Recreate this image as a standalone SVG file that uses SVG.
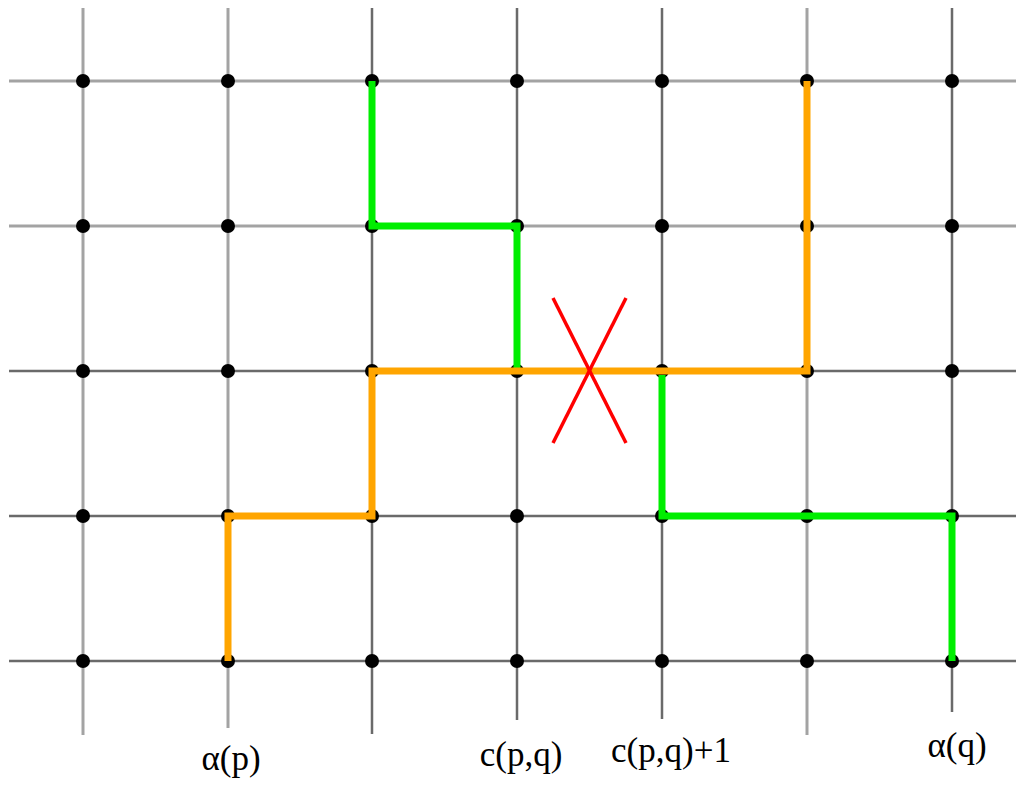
<svg xmlns="http://www.w3.org/2000/svg" width="1016" height="787" viewBox="0 0 1016 787">
<style>
.gl{stroke:#a3a3a3;stroke-width:3;fill:none}
.gd{stroke:#6a6a6a;stroke-width:2.5;fill:none}
.dot{fill:#000}
.green{stroke:#00ee00;stroke-width:7;fill:none;stroke-linejoin:miter}
.orange{stroke:#ffa500;stroke-width:7;fill:none;stroke-linejoin:miter}
.x{stroke:#ff0000;stroke-width:3.5;fill:none}
.lbl{font-family:"Liberation Serif","Times New Roman",serif;font-size:35px;fill:#000;text-anchor:middle}
</style>
<rect width="1016" height="787" fill="#fff"/>
<g id="grid">
<line class="gl" x1="83" y1="8" x2="83" y2="735"/>
<line class="gl" x1="228" y1="8" x2="228" y2="728"/>
<line class="gd" x1="372" y1="8" x2="372" y2="734"/>
<line class="gd" x1="517" y1="8" x2="517" y2="720"/>
<line class="gd" x1="662" y1="8" x2="662" y2="719"/>
<line class="gl" x1="807" y1="8" x2="807" y2="735"/>
<line class="gd" x1="952" y1="8" x2="952" y2="712"/>
<line class="gl" x1="9" y1="81" x2="1016" y2="81"/>
<line class="gl" x1="9" y1="226" x2="1016" y2="226"/>
<line class="gd" x1="9" y1="371" x2="1016" y2="371"/>
<line class="gd" x1="9" y1="516" x2="1016" y2="516"/>
<line class="gd" x1="9" y1="661" x2="1016" y2="661"/>
</g>
<g id="nodes">
<g id="r0"><circle class="dot" cx="83" cy="81" r="7"/><circle class="dot" cx="228" cy="81" r="7"/><circle class="dot" cx="372" cy="81" r="7"/><circle class="dot" cx="517" cy="81" r="7"/><circle class="dot" cx="662" cy="81" r="7"/><circle class="dot" cx="807" cy="81" r="7"/><circle class="dot" cx="952" cy="81" r="7"/></g>
<g id="r1"><circle class="dot" cx="83" cy="226" r="7"/><circle class="dot" cx="228" cy="226" r="7"/><circle class="dot" cx="372" cy="226" r="7"/><circle class="dot" cx="517" cy="226" r="7"/><circle class="dot" cx="662" cy="226" r="7"/><circle class="dot" cx="807" cy="226" r="7"/><circle class="dot" cx="952" cy="226" r="7"/></g>
<g id="r2"><circle class="dot" cx="83" cy="371" r="7"/><circle class="dot" cx="228" cy="371" r="7"/><circle class="dot" cx="372" cy="371" r="7"/><circle class="dot" cx="517" cy="371" r="7"/><circle class="dot" cx="662" cy="371" r="7"/><circle class="dot" cx="807" cy="371" r="7"/><circle class="dot" cx="952" cy="371" r="7"/></g>
<g id="r3"><circle class="dot" cx="83" cy="516" r="7"/><circle class="dot" cx="228" cy="516" r="7"/><circle class="dot" cx="372" cy="516" r="7"/><circle class="dot" cx="517" cy="516" r="7"/><circle class="dot" cx="662" cy="516" r="7"/><circle class="dot" cx="807" cy="516" r="7"/><circle class="dot" cx="952" cy="516" r="7"/></g>
<g id="r4"><circle class="dot" cx="83" cy="661" r="7"/><circle class="dot" cx="228" cy="661" r="7"/><circle class="dot" cx="372" cy="661" r="7"/><circle class="dot" cx="517" cy="661" r="7"/><circle class="dot" cx="662" cy="661" r="7"/><circle class="dot" cx="807" cy="661" r="7"/><circle class="dot" cx="952" cy="661" r="7"/></g>
</g>
<g id="connectors">
<polyline class="green" points="372,81 372,226 517,226 517,371"/>
<polyline class="orange" points="228,661 228,516 372,516 372,371 807,371 807,81"/>
<polyline class="green" points="662,375 662,516 952,516 952,661"/>
</g>
<g id="cross">
<line class="x" x1="553" y1="298" x2="626" y2="443"/>
<line class="x" x1="626" y1="298" x2="553" y2="443"/>
</g>
<g id="labels">
<text class="lbl" x="231" y="770">α(p)</text>
<text class="lbl" x="521" y="766">c(p,q)</text>
<text class="lbl" x="671" y="762">c(p,q)+1</text>
<text class="lbl" x="957" y="757">α(q)</text>
</g>
</svg>
